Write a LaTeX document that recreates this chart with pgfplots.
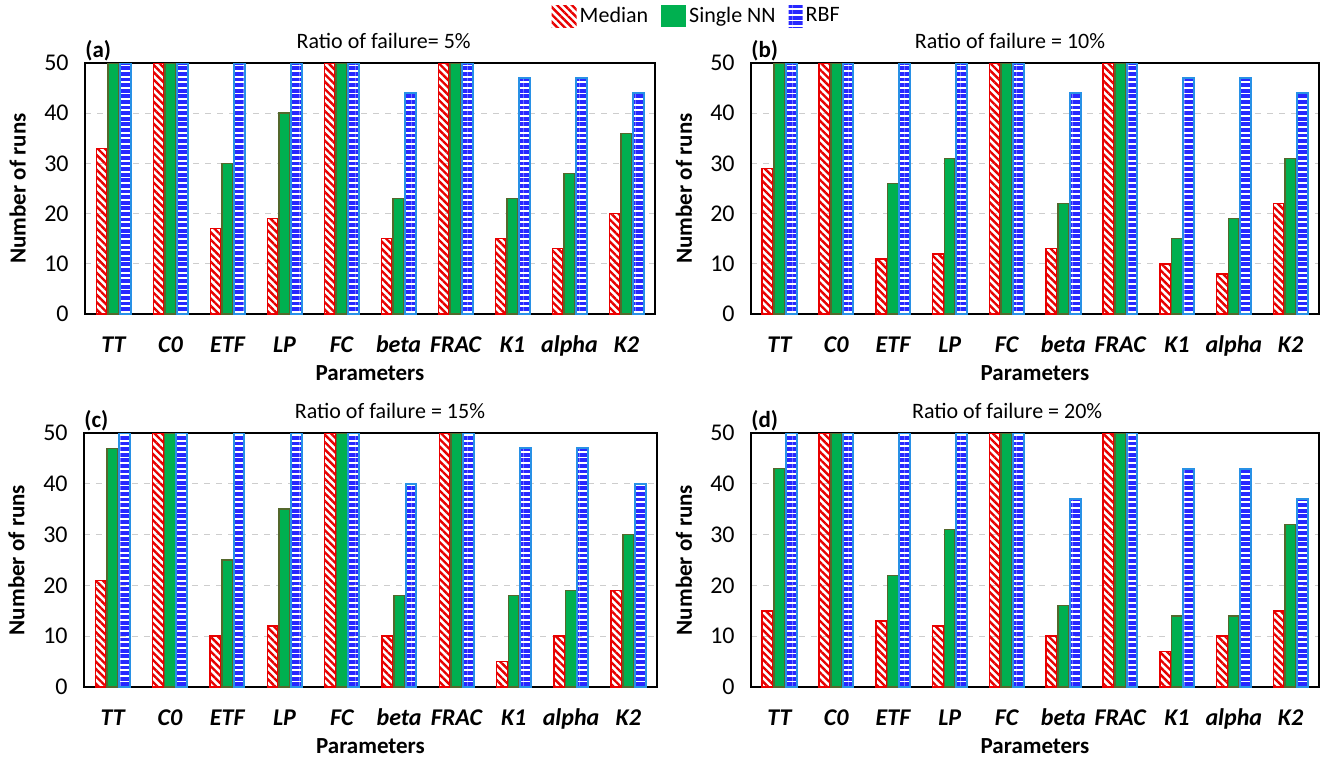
\documentclass[border=0pt]{standalone}
\usepackage{fontspec}
\setmainfont{Carlito}
\usepackage{pgfplots}
\pgfplotsset{compat=1.18}
\usepackage{pgfplotstable}
\usetikzlibrary{patterns.meta}

\definecolor{medred}{RGB}{232,0,0}
\definecolor{nngreen}{RGB}{0,176,80}
\definecolor{nnedge}{RGB}{84,104,44}
\definecolor{rbfblue}{RGB}{40,40,255}
\definecolor{rbfedge}{RGB}{40,145,230}
\definecolor{gridgray}{RGB}{205,205,205}

% columns: x med nn rbf  (TT C0 ETF LP FC beta FRAC K1 alpha K2)
\pgfplotstableread{
x med nn rbf
0 33 50 50
1 50 50 50
2 17 30 50
3 19 40 50
4 50 50 50
5 15 23 44
6 50 50 50
7 15 23 47
8 13 28 47
9 20 36 44
}\tabA
\pgfplotstableread{
x med nn rbf
0 29 50 50
1 50 50 50
2 11 26 50
3 12 31 50
4 50 50 50
5 13 22 44
6 50 50 50
7 10 15 47
8 8 19 47
9 22 31 44
}\tabB
\pgfplotstableread{
x med nn rbf
0 21 47 50
1 50 50 50
2 10 25 50
3 12 35 50
4 50 50 50
5 10 18 40
6 50 50 50
7 5 18 47
8 10 19 47
9 19 30 40
}\tabC
\pgfplotstableread{
x med nn rbf
0 15 43 50
1 50 50 50
2 13 22 50
3 12 31 50
4 50 50 50
5 10 16 37
6 50 50 50
7 7 14 43
8 10 14 43
9 15 32 37
}\tabD

\pgfplotsset{
  panel/.style={
    scale only axis, width=285pt,
    ybar=0.5pt, bar width=5.4pt,
    xmin=-0.5, xmax=9.5, ymin=0, ymax=50,
    xtick={0,...,9},
    xticklabels={TT,C0,ETF,LP,FC,beta,FRAC,K1,alpha,K2},
    ytick={0,10,...,50},
    major tick length=0pt,
    ymajorgrids, grid style={dashed, gridgray, line width=0.6pt},
    axis line style={line width=1pt, black},
    /pgf/number format/assume math mode=true,
    yticklabel style={anchor=east, inner sep=0pt, xshift=-8pt, font=\fontsize{12}{14}\selectfont},
    xticklabel style={anchor=base, inner sep=0pt, yshift=-19pt, font=\fontsize{12}{14}\selectfont\bfseries\itshape},
    xlabel={Parameters}, ylabel={Number of runs},
    label style={font=\fontsize{11.5}{13}\selectfont\bfseries},
    xlabel style={at={(axis description cs:0.5,0)}, anchor=center, yshift=-29.5pt},
    ylabel style={at={(axis description cs:-0.118,0.5)}, anchor=center},
    title style={anchor=base, yshift=1.5pt, inner sep=0pt, font=\fontsize{11}{13}\selectfont},
  },
  medstyle/.style={draw=medred, line width=0.75pt,
    pattern={Lines[angle=-45,distance=2.6pt,line width=1.2pt]}, pattern color=medred,
    legend image code/.code={\path[##1,draw=none] (0pt,-5.5pt) rectangle (12.5pt,5.5pt);}},
  nnstyle/.style={draw=nnedge, fill=nngreen, line width=0.75pt,
    legend image code/.code={\path[##1,draw=none] (0pt,-5.5pt) rectangle (12.5pt,5.5pt);}},
  rbfstyle/.style={draw=rbfedge, line width=1pt,
    pattern={Lines[angle=0,distance=2.8pt,line width=1.9pt]}, pattern color=rbfblue,
    legend image code/.code={\path[##1,draw=none] (0pt,-5.5pt) rectangle (7pt,5.5pt);}},
}

\begin{document}
\begin{tikzpicture}
\useasboundingbox (0,0) rectangle (662pt,-378.5pt);

% (a)
\begin{axis}[panel, name=a, height=125.5pt, at={(42.5pt,-31.5pt)}, anchor=north west,
  title={Ratio of failure= 5\%}, title style={at={(axis description cs:0.524,1)}},
  legend style={at={(1.074,1.187)}, anchor=center, draw=none, fill=none,
    font=\fontsize{11}{13}\selectfont, legend columns=-1,
    nodes={inner xsep=1.5pt},
    /tikz/every even column/.append style={column sep=5pt}},
  legend cell align=left]
\addplot[medstyle] table[x=x,y=med]{\tabA};
\addplot[nnstyle] table[x=x,y=nn]{\tabA};
\addplot[rbfstyle] table[x=x,y=rbf]{\tabA};
\legend{Median, Single NN, RBF}
\end{axis}
\node[anchor=south west, inner sep=0pt, yshift=1pt, font=\fontsize{11.5}{13}\selectfont\bfseries] at (a.north west) {(a)};

% (b)
\begin{axis}[panel, name=b, height=125.5pt, at={(375.5pt,-31.5pt)}, anchor=north west,
  width=284pt,
  title={Ratio of failure = 10\%}, title style={at={(axis description cs:0.456,1)}}]
\addplot[medstyle] table[x=x,y=med]{\tabB};
\addplot[nnstyle] table[x=x,y=nn]{\tabB};
\addplot[rbfstyle] table[x=x,y=rbf]{\tabB};
\end{axis}
\node[anchor=south west, inner sep=0pt, yshift=1pt, font=\fontsize{11.5}{13}\selectfont\bfseries] at (b.north west) {(b)};

% (c)
\begin{axis}[panel, name=c, height=127pt, at={(42pt,-216.5pt)}, anchor=north west,
  width=286.5pt,
  title={Ratio of failure = 15\%}, title style={at={(axis description cs:0.534,1)}}]
\addplot[medstyle] table[x=x,y=med]{\tabC};
\addplot[nnstyle] table[x=x,y=nn]{\tabC};
\addplot[rbfstyle] table[x=x,y=rbf]{\tabC};
\end{axis}
\node[anchor=south west, inner sep=0pt, yshift=1pt, font=\fontsize{11.5}{13}\selectfont\bfseries] at (c.north west) {(c)};

% (d)
\begin{axis}[panel, name=d, height=127pt, at={(375.5pt,-216.5pt)}, anchor=north west,
  width=284pt,
  title={Ratio of failure = 20\%}, title style={at={(axis description cs:0.451,1)}}]
\addplot[medstyle] table[x=x,y=med]{\tabD};
\addplot[nnstyle] table[x=x,y=nn]{\tabD};
\addplot[rbfstyle] table[x=x,y=rbf]{\tabD};
\end{axis}
\node[anchor=south west, inner sep=0pt, yshift=1pt, font=\fontsize{11.5}{13}\selectfont\bfseries] at (d.north west) {(d)};

\end{tikzpicture}
\end{document}
